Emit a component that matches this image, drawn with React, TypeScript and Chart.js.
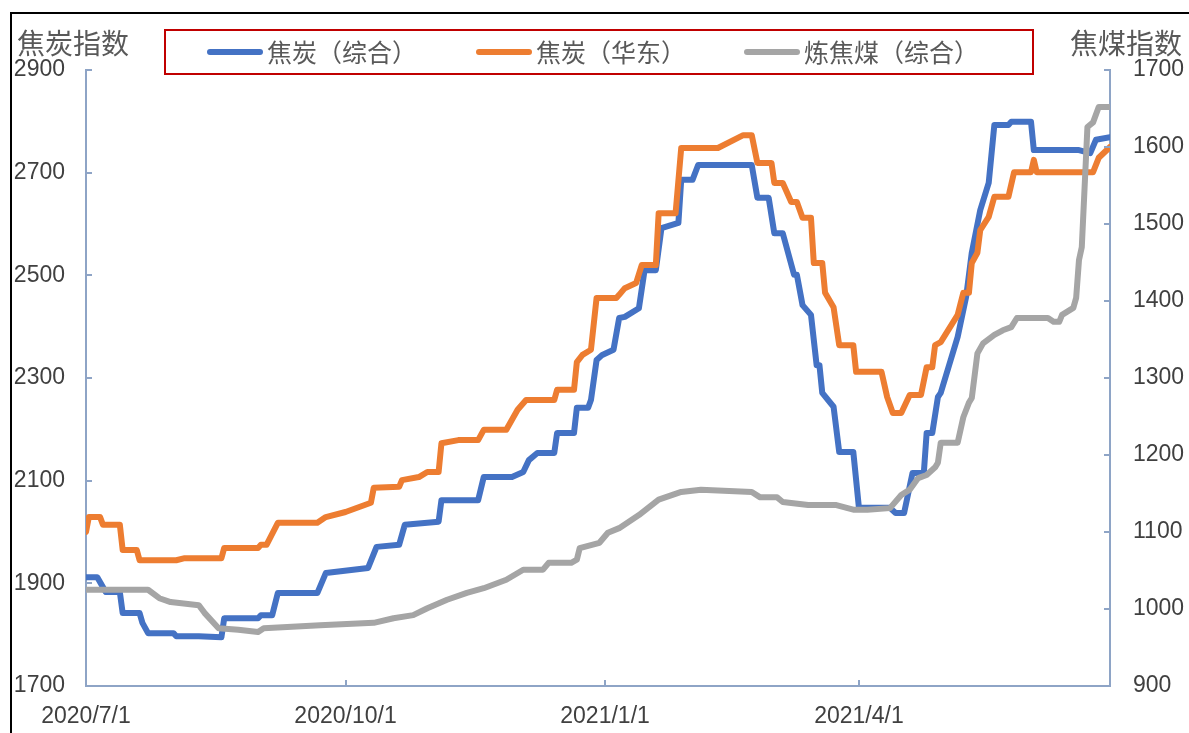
import React, { useEffect, useRef } from "react";
import { Chart, registerables } from "chart.js";

Chart.register(...registerables);

// x values are days counted from 2020/7/1
const xTickDays = [0, 92, 184, 274];
const xTickLabels = ["2020/7/1", "2020/10/1", "2021/1/1", "2021/4/1"];
const seriesNames = ["焦炭（综合）", "焦炭（华东）", "炼焦煤（综合）"];
const leftAxisTitle = "焦炭指数";
const rightAxisTitle = "焦煤指数";

const cokeAllDays = [0, 4, 7, 12, 13, 19, 20, 22, 31, 32, 40, 48, 49, 61, 62, 66, 68, 82, 85, 100, 103, 111, 113, 125, 126, 139, 141, 151, 155, 157, 160, 166, 167, 173, 174, 178, 179, 181, 183, 187, 189, 191, 196, 198, 202, 204, 210, 211, 215, 217, 236, 238, 242, 244, 247, 251, 252, 254, 257, 259, 260, 261, 265, 267, 272, 274, 285, 287, 290, 293, 297, 298, 300, 302, 303, 309, 312, 314, 317, 320, 322, 327, 328, 335, 336, 352, 356, 358, 363];
const cokeAllValues = [1912, 1912, 1883, 1883, 1842, 1842, 1823, 1803, 1803, 1797, 1797, 1795, 1832, 1832, 1838, 1838, 1881, 1881, 1920, 1930, 1971, 1975, 2014, 2020, 2062, 2062, 2107, 2107, 2117, 2140, 2154, 2154, 2193, 2193, 2242, 2242, 2257, 2335, 2345, 2355, 2417, 2419, 2436, 2510, 2510, 2592, 2602, 2686, 2686, 2715, 2715, 2651, 2651, 2582, 2582, 2501, 2501, 2442, 2423, 2325, 2325, 2271, 2244, 2156, 2156, 2047, 2047, 2037, 2037, 2115, 2115, 2193, 2193, 2263, 2271, 2380, 2458, 2544, 2627, 2680, 2793, 2793, 2799, 2799, 2744, 2744, 2738, 2764, 2769];

const cokeEastDays = [0, 1, 5, 6, 12, 13, 18, 19, 32, 35, 48, 49, 61, 62, 64, 68, 82, 85, 92, 101, 102, 111, 112, 118, 121, 125, 126, 132, 139, 141, 149, 153, 156, 166, 167, 173, 174, 176, 179, 181, 188, 189, 191, 195, 197, 202, 203, 209, 211, 224, 233, 236, 238, 243, 244, 247, 250, 252, 254, 257, 258, 261, 262, 265, 267, 272, 273, 282, 284, 286, 289, 292, 296, 298, 300, 301, 303, 309, 311, 313, 314, 316, 317, 320, 322, 327, 329, 335, 336, 337, 357, 359, 363];
const cokeEastValues = [2000, 2029, 2029, 2014, 2014, 1965, 1965, 1945, 1945, 1949, 1949, 1969, 1969, 1975, 1975, 2018, 2018, 2029, 2039, 2057, 2086, 2088, 2101, 2107, 2117, 2117, 2173, 2179, 2179, 2199, 2199, 2238, 2257, 2257, 2277, 2277, 2331, 2345, 2355, 2456, 2456, 2462, 2475, 2485, 2520, 2520, 2621, 2621, 2748, 2748, 2773, 2773, 2719, 2719, 2680, 2680, 2643, 2643, 2612, 2612, 2524, 2524, 2466, 2438, 2364, 2364, 2312, 2312, 2263, 2232, 2232, 2267, 2267, 2321, 2321, 2364, 2370, 2423, 2466, 2466, 2524, 2544, 2588, 2614, 2653, 2653, 2701, 2701, 2725, 2701, 2701, 2729, 2750];

const coalDays = [0, 22, 26, 30, 40, 42, 47, 54, 61, 63, 83, 102, 109, 116, 121, 128, 135, 141, 149, 155, 162, 164, 172, 174, 175, 182, 185, 189, 196, 203, 211, 218, 236, 239, 245, 247, 256, 266, 272, 277, 285, 289, 292, 295, 298, 301, 302, 303, 309, 311, 313, 314, 316, 318, 322, 325, 328, 330, 341, 343, 345, 346, 350, 351, 352, 353, 354, 355, 357, 359, 363];
const coalValues = [1025, 1025, 1014, 1009, 1005, 995, 975, 973, 970, 975, 979, 982, 988, 992, 1001, 1012, 1021, 1027, 1038, 1051, 1051, 1060, 1060, 1064, 1079, 1086, 1099, 1105, 1122, 1142, 1152, 1155, 1152, 1145, 1145, 1139, 1135, 1135, 1129, 1129, 1131, 1148, 1155, 1170, 1174, 1184, 1190, 1216, 1216, 1249, 1268, 1274, 1332, 1345, 1356, 1362, 1366, 1378, 1378, 1373, 1373, 1382, 1391, 1404, 1453, 1470, 1548, 1626, 1632, 1652, 1652];

const colors = ["#4472C4", "#ED7D31", "#A5A5A5"];
const axisColor = "#8EA4C6";
const cjkFont = '"Noto Sans CJK SC", "Noto Sans", sans-serif';
const numFont = '"Liberation Sans", Arial, sans-serif';

const toPoints = (days: number[], vals: number[]) =>
  days.map((d, i) => ({ x: d, y: vals[i] }));

const innerTicksPlugin = {
  id: "innerTicks",
  afterDatasetsDraw(chart: any) {
    const ctx = chart.ctx;
    const { x, y, y1 } = chart.scales;
    const a = chart.chartArea;
    ctx.save();
    ctx.strokeStyle = axisColor;
    ctx.lineWidth = 2;
    ctx.beginPath();
    y.ticks.forEach((t: any) => {
      const py = Math.round(y.getPixelForValue(t.value));
      ctx.moveTo(a.left, py);
      ctx.lineTo(a.left + 6, py);
    });
    y1.ticks.forEach((t: any) => {
      const py = Math.round(y1.getPixelForValue(t.value));
      ctx.moveTo(a.right, py);
      ctx.lineTo(a.right - 6, py);
    });
    x.ticks.forEach((t: any) => {
      const px = Math.round(x.getPixelForValue(t.value));
      ctx.moveTo(px, a.bottom);
      ctx.lineTo(px, a.bottom - 6);
    });
    ctx.stroke();
    ctx.restore();
  },
  afterDraw(chart: any) {
    const ctx = chart.ctx;
    ctx.save();
    // axis titles
    ctx.fillStyle = "#595959";
    ctx.font = `28px ${cjkFont}`;
    ctx.textBaseline = "middle";
    ctx.textAlign = "left";
    ctx.fillText(leftAxisTitle, 17, 43);
    ctx.textAlign = "right";
    ctx.fillText(rightAxisTitle, 1182, 43);
    // legend box
    ctx.strokeStyle = "#C00000";
    ctx.lineWidth = 2;
    ctx.strokeRect(165, 30, 868, 44);
    const lineStarts = [210, 479, 747];
    ctx.font = `25px ${cjkFont}`;
    ctx.textAlign = "left";
    seriesNames.forEach((name, i) => {
      ctx.strokeStyle = colors[i];
      ctx.lineWidth = 6;
      ctx.lineCap = "round";
      ctx.beginPath();
      ctx.moveTo(lineStarts[i], 52);
      ctx.lineTo(lineStarts[i] + 50, 52);
      ctx.stroke();
      ctx.fillStyle = "#595959";
      ctx.fillText(name, lineStarts[i] + 57, 52);
    });
    ctx.restore();
  },
};

export default function App() {
  const ref = useRef<HTMLCanvasElement | null>(null);

  useEffect(() => {
    if (!ref.current) return;
    const lineStyle = {
      borderWidth: 6,
      pointRadius: 0,
      tension: 0,
      fill: false,
      borderJoinStyle: "round" as const,
      borderCapStyle: "round" as const,
    };
    const chart = new Chart(ref.current, {
      type: "line",
      data: {
        datasets: [
          {
            label: seriesNames[0],
            data: toPoints(cokeAllDays, cokeAllValues),
            borderColor: colors[0],
            backgroundColor: colors[0],
            yAxisID: "y",
            order: 2,
            ...lineStyle,
          },
          {
            label: seriesNames[1],
            data: toPoints(cokeEastDays, cokeEastValues),
            borderColor: colors[1],
            backgroundColor: colors[1],
            yAxisID: "y",
            order: 1,
            ...lineStyle,
          },
          {
            label: seriesNames[2],
            data: toPoints(coalDays, coalValues),
            borderColor: colors[2],
            backgroundColor: colors[2],
            yAxisID: "y1",
            order: 0,
            ...lineStyle,
          },
        ],
      },
      options: {
        animation: false,
        responsive: false,
        devicePixelRatio: 1,
        layout: { padding: { top: 70, left: 0, right: 0, bottom: 0 } },
        plugins: {
          legend: { display: false },
          title: { display: false },
          tooltip: { enabled: false },
        },
        scales: {
          x: {
            type: "linear",
            min: 0,
            max: 363,
            afterBuildTicks: (s: any) => {
              s.ticks = xTickDays.map((v) => ({ value: v }));
            },
            afterFit: (s: any) => {
              s.height = 47;
            },
            grid: { display: false, drawTicks: false },
            border: { display: true, color: axisColor, width: 2 },
            ticks: {
              autoSkip: false,
              maxRotation: 0,
              padding: 17,
              color: "#404040",
              font: { family: numFont, size: 23 },
              callback: (v: any) => {
                const i = xTickDays.indexOf(Number(v));
                return i >= 0 ? xTickLabels[i] : "";
              },
            },
          },
          y: {
            type: "linear",
            position: "left",
            min: 1700,
            max: 2900,
            afterFit: (s: any) => {
              s.width = 86;
            },
            grid: { display: false, drawTicks: false },
            border: { display: true, color: axisColor, width: 2 },
            ticks: {
              stepSize: 200,
              padding: 21,
              color: "#404040",
              font: { family: numFont, size: 23 },
              callback: (v: any) => String(v),
            },
          },
          y1: {
            type: "linear",
            position: "right",
            min: 900,
            max: 1700,
            afterFit: (s: any) => {
              s.width = 79;
            },
            grid: { display: false, drawTicks: false },
            border: { display: true, color: axisColor, width: 2 },
            ticks: {
              stepSize: 100,
              padding: 23,
              color: "#404040",
              font: { family: numFont, size: 23 },
              callback: (v: any) => String(v),
            },
          },
        },
      },
      plugins: [innerTicksPlugin],
    });
    return () => chart.destroy();
  }, []);

  return (
    <div
      style={{
        position: "absolute",
        left: 0,
        top: 0,
        width: 1189,
        height: 733,
        background: "#ffffff",
        overflow: "hidden",
      }}
    >
      <div
        style={{
          position: "absolute",
          left: 10,
          top: 12,
          width: 1200,
          height: 800,
          borderLeft: "2px solid #000",
          borderTop: "2px solid #000",
        }}
      />
      <canvas
        ref={ref}
        width={1189}
        height={733}
        style={{ position: "absolute", left: 0, top: 0, width: 1189, height: 733 }}
      />
    </div>
  );
}
